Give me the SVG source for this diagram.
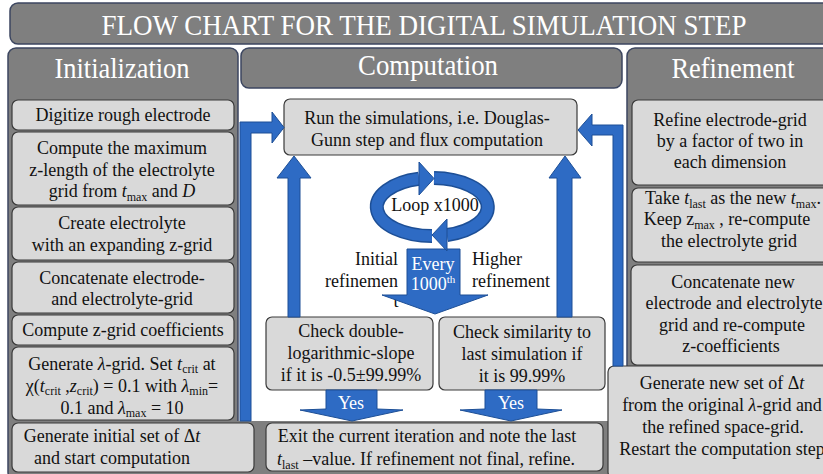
<svg xmlns="http://www.w3.org/2000/svg" width="823" height="474" viewBox="0 0 823 474">
<style>
.panel{fill:#7f7f7f;stroke:#3c4660;stroke-width:1.5}
.box{fill:#d9d9d9;stroke:#3a3a3a;stroke-width:1.2}
.t{font-family:"Liberation Serif","Times New Roman",serif;font-size:18px;fill:#111;text-anchor:middle}
.h{font-family:"Liberation Serif","Times New Roman",serif;font-size:30px;fill:#fff;text-anchor:middle}
.w{fill:#fff}
.arr{fill:#2e6bc4;stroke:#1d4f96;stroke-width:1}
.ring{fill:none;stroke:#1d4f96;stroke-width:14}
.ringin{fill:none;stroke:#2e6bc4;stroke-width:11}
.sub{font-size:12px}
.it{font-style:italic}
</style>
<rect width="823" height="474" fill="#fff"/>

<g id="title">
<rect class="panel" x="10" y="3" width="830" height="41" rx="8"/>
<text class="h" x="424" y="35" textLength="645" lengthAdjust="spacingAndGlyphs">FLOW CHART FOR THE DIGITAL SIMULATION STEP</text>
</g>

<g id="initialization">
<rect class="panel" x="8" y="48" width="230" height="432" rx="8"/>
<text class="h" x="122" y="78" textLength="135" lengthAdjust="spacingAndGlyphs">Initialization</text>
</g>
<g id="computation">
<rect class="panel" x="241" y="48" width="381" height="40" rx="8"/>
<text class="h" x="428" y="75" textLength="140" lengthAdjust="spacingAndGlyphs">Computation</text>
</g>
<g id="refinement">
<rect class="panel" x="627" y="48" width="210" height="432" rx="8"/>
<text class="h" x="733" y="78" textLength="123" lengthAdjust="spacingAndGlyphs">Refinement</text>
</g>
<g id="bottom-band">
<rect x="236" y="421" width="380" height="60" fill="#7f7f7f"/>
</g>

<g id="digitize">
<rect class="box" x="12" y="100" width="222" height="30" rx="6"/>
<text class="t" x="123" y="121">Digitize rough electrode</text>
</g>
<g id="compute-zlength">
<rect class="box" x="12" y="132" width="222" height="73" rx="6"/>
<text class="t" x="122" y="154">Compute the maximum</text>
<text class="t" x="122" y="176">z-length of the electrolyte</text>
<text class="t" x="122" y="197">grid from <tspan class="it">t</tspan><tspan class="sub" dy="4">max</tspan><tspan dy="-4"> and </tspan><tspan class="it">D</tspan></text>
</g>
<g id="create-electrolyte">
<rect class="box" x="12" y="207" width="222" height="53" rx="6"/>
<text class="t" x="122" y="229">Create electrolyte</text>
<text class="t" x="122" y="251">with an expanding z-grid</text>
</g>
<g id="concatenate">
<rect class="box" x="12" y="262" width="222" height="51" rx="6"/>
<text class="t" x="122" y="284">Concatenate electrode-</text>
<text class="t" x="122" y="305">and electrolyte-grid</text>
</g>
<g id="zgrid-coefficients">
<rect class="box" x="12" y="315" width="222" height="30" rx="6"/>
<text class="t" x="123" y="336">Compute z-grid coefficients</text>
</g>
<g id="lambda-grid">
<rect class="box" x="12" y="347" width="222" height="73" rx="6"/>
<text class="t" x="122" y="370">Generate <tspan class="it">λ</tspan>-grid. Set <tspan class="it">t</tspan><tspan class="sub" dy="3">crit</tspan><tspan dy="-3"> at</tspan></text>
<text class="t" x="122" y="392">χ(<tspan class="it">t</tspan><tspan class="sub" dy="3">crit</tspan><tspan dy="-3"> ,</tspan><tspan class="it">z</tspan><tspan class="sub" dy="3">crit</tspan><tspan dy="-3">) = 0.1 with </tspan><tspan class="it">λ</tspan><tspan class="sub" dy="3">min</tspan><tspan dy="-3">=</tspan></text>
<text class="t" x="122" y="414">0.1 and <tspan class="it">λ</tspan><tspan class="sub" dy="3">max</tspan><tspan dy="-3"> = 10</tspan></text>
</g>
<g id="generate-initial">
<rect class="box" x="12" y="423" width="242" height="49" rx="6"/>
<text class="t" x="112" y="442">Generate initial set of Δ<tspan class="it">t</tspan></text>
<text class="t" x="112" y="464">and start computation</text>
</g>

<g id="run-simulations">
<rect class="box" x="284" y="99" width="293" height="56" rx="6"/>
<text class="t" x="427" y="124">Run the simulations, i.e. Douglas-</text>
<text class="t" x="427" y="146">Gunn step and flux computation</text>
</g>
<g id="check-slope">
<rect class="box" x="266" y="317" width="167" height="73" rx="6"/>
<text class="t" x="351" y="337">Check double-</text>
<text class="t" x="351" y="359">logarithmic-slope</text>
<text class="t" x="351" y="381">if it is -0.5±99.99%</text>
</g>
<g id="check-similarity">
<rect class="box" x="439" y="317" width="166" height="73" rx="6"/>
<text class="t" x="522" y="338">Check similarity to</text>
<text class="t" x="522" y="360">last simulation if</text>
<text class="t" x="522" y="382">it is 99.99%</text>
</g>
<g id="exit-iteration">
<rect class="box" x="266" y="423" width="337" height="48" rx="6"/>
<text class="t" x="427" y="442">Exit the current iteration and note the last</text>
<text class="t" x="426" y="465"><tspan class="it">t</tspan><tspan class="sub" dy="4">last</tspan><tspan dy="-4"> –value. If refinement not final, refine.</tspan></text>
</g>

<g id="refine-grid">
<rect class="box" x="632" y="100" width="210" height="85" rx="6"/>
<text class="t" x="730" y="126">Refine electrode-grid</text>
<text class="t" x="730" y="147">by a factor of two in</text>
<text class="t" x="730" y="168">each dimension</text>
</g>
<g id="take-tlast">
<rect class="box" x="632" y="188" width="210" height="74" rx="6"/>
<text class="t" x="733" y="204">Take <tspan class="it">t</tspan><tspan class="sub" dy="4">last</tspan><tspan dy="-4"> as the new </tspan><tspan class="it">t</tspan><tspan class="sub" dy="4">max</tspan><tspan dy="-4">.</tspan></text>
<text class="t" x="727" y="225">Keep z<tspan class="sub" dy="4">max</tspan><tspan dy="-4"> , re-compute</tspan></text>
<text class="t" x="729" y="247">the electrolyte grid</text>
</g>
<g id="concatenate-new">
<rect class="box" x="631" y="265" width="210" height="100" rx="6"/>
<text class="t" x="733" y="288">Concatenate new</text>
<text class="t" x="734" y="309">electrode and electrolyte</text>
<text class="t" x="732" y="331">grid and re-compute</text>
<text class="t" x="731" y="352">z-coefficients</text>
</g>
<g id="generate-new">
<rect class="box" x="608" y="366" width="240" height="112" rx="6"/>
<text class="t" x="722" y="389">Generate new set of Δ<tspan class="it">t</tspan></text>
<text class="t" x="722" y="411">from the original <tspan class="it">λ</tspan>-grid and</text>
<text class="t" x="723" y="433">the refined space-grid.</text>
<text class="t" x="722" y="455">Restart the computation step</text>
</g>

<g id="labels">
<text class="t" x="398" y="265" style="text-anchor:end">Initial</text>
<text class="t" x="398" y="287" style="text-anchor:end">refinemen</text>
<text class="t" x="396" y="307">t</text>
<text class="t" x="472" y="265" style="text-anchor:start">Higher</text>
<text class="t" x="472" y="287" style="text-anchor:start">refinement</text>
</g>

<g id="connectors">
<path class="arr" d="M240 421 L240 122 L272 122 L272 112 L284 127.5 L272 143 L272 133 L251 133 L251 421 Z"/>
<path class="arr" d="M623 366 L623 125 L592 125 L592 114 L578 130 L592 146 L592 135 L613 135 L613 366 Z"/>
<path class="arr" d="M288 317 L288 178 L277 178 L294 156 L311 178 L300 178 L300 317 Z"/>
<path class="arr" d="M557 317 L557 178 L549 178 L565 156 L581 178 L572 178 L572 317 Z"/>
<path class="arr" d="M407 249 L460 249 L460 295 L488 295 L435 314 L382 295 L407 295 Z"/>
<path class="arr" d="M326 390 L377 390 L377 409 L403 410 L352 421 L300 410 L326 409 Z"/>
<path class="arr" d="M485 390 L537 390 L537 409 L562 410 L511 421 L460 410 L485 409 Z"/>
<g id="loop">
<path class="ring" d="M432 236 A55 29 0 0 1 419 178.8"/>
<path class="ring" d="M434 178 A55 29 0 0 1 447 235"/>
<path class="ringin" d="M432 236 A55 29 0 0 1 419 178.8"/>
<path class="ringin" d="M434 178 A55 29 0 0 1 447 235"/>
<polygon class="arr" points="419,162 434,178.5 419,195"/>
<polygon class="arr" points="447,219 432,235 447,251"/>
</g>
</g>

<g id="arrow-texts">
<text class="t w" x="351" y="409">Yes</text>
<text class="t w" x="511" y="409">Yes</text>
<text class="t w" x="433" y="270">Every</text>
<text class="t w" x="433" y="290">1000<tspan font-size="11" dy="-7">th</tspan></text>
<text class="t" x="435" y="211">Loop x1000</text>
</g>
</svg>
